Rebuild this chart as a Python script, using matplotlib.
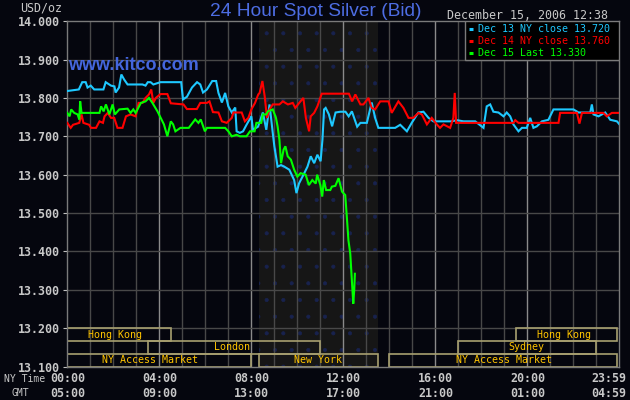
import matplotlib.pyplot as plt
from matplotlib.patches import Rectangle
from matplotlib import transforms

plt.rcParams['hatch.linewidth'] = 0.5

# Dec 13 (cyan), hours after 00:00 NY time
dec13_h = [0.0, 0.5, 0.65, 0.8, 0.88, 1.02, 1.17, 1.57, 1.67, 1.9, 2.05, 2.1, 2.25, 2.35, 2.47, 2.62,
           3.27, 3.4, 3.5, 3.62, 3.74, 4.05, 4.95, 5.03, 5.2, 5.42, 5.64, 5.78, 5.9, 6.07, 6.3, 6.47,
           6.57, 6.72, 6.86, 7.0, 7.15, 7.3, 7.36, 7.5, 7.64, 7.79, 8.0, 8.07, 8.29, 8.5, 8.65, 8.79,
           8.93, 9.0, 9.07, 9.14, 9.29, 9.43, 9.65, 9.86, 9.96, 10.07, 10.3, 10.44, 10.58, 10.73,
           10.87, 11.01, 11.09, 11.16, 11.23, 11.37, 11.51, 11.66, 11.87, 12.09, 12.23, 12.37, 12.6,
           12.74, 13.02, 13.23, 13.38, 13.52, 14.25, 14.47, 14.76, 14.97, 15.26, 15.48, 15.7, 15.91,
           16.71, 16.93, 17.22, 17.73, 18.09, 18.23, 18.38, 18.52, 18.74, 18.96, 19.1, 19.25, 19.39,
           19.61, 19.76, 19.97, 20.12, 20.26, 20.41, 20.63, 20.91, 21.13, 22.0, 22.22, 22.73, 22.8,
           22.87, 23.09, 23.38, 23.6, 23.89, 24.0]
dec13_p = [13.818, 13.822, 13.841, 13.841, 13.827, 13.832, 13.822, 13.822, 13.841, 13.832, 13.830,
           13.814, 13.827, 13.861, 13.848, 13.835, 13.835, 13.832, 13.841, 13.841, 13.835, 13.841,
           13.841, 13.796, 13.803, 13.827, 13.841, 13.835, 13.814, 13.822, 13.844, 13.844, 13.813,
           13.788, 13.813, 13.778, 13.762, 13.775, 13.713, 13.709, 13.713, 13.730, 13.752, 13.717,
           13.725, 13.762, 13.717, 13.783, 13.709, 13.674, 13.648, 13.621, 13.625, 13.621, 13.613,
           13.586, 13.552, 13.577, 13.604, 13.621, 13.648, 13.630, 13.652, 13.635, 13.691, 13.770,
           13.774, 13.757, 13.726, 13.762, 13.764, 13.764, 13.752, 13.765, 13.725, 13.735, 13.735,
           13.788, 13.748, 13.722, 13.722, 13.730, 13.713, 13.735, 13.762, 13.764, 13.748, 13.739,
           13.739, 13.742, 13.739, 13.739, 13.722, 13.778, 13.783, 13.764, 13.762, 13.752, 13.762,
           13.752, 13.731, 13.713, 13.722, 13.722, 13.748, 13.722, 13.726, 13.739, 13.743, 13.770,
           13.770, 13.762, 13.762, 13.783, 13.757, 13.752, 13.762, 13.743, 13.739, 13.731]

# Dec 14 (red)
dec14_h = [0.0, 0.15, 0.25, 0.52, 0.62, 0.7, 0.95, 1.03, 1.25, 1.4, 1.55, 1.62, 1.76, 1.9, 2.04, 2.18,
           2.4, 2.55, 2.75, 2.97, 3.1, 3.27, 3.4, 3.55, 3.65, 3.74, 3.85, 4.05, 4.35, 4.5, 5.05, 5.2,
           5.63, 5.78, 6.07, 6.18, 6.33, 6.57, 6.72, 6.93, 7.15, 7.22, 7.58, 7.72, 7.87, 8.0, 8.16,
           8.3, 8.36, 8.48, 8.58, 8.68, 8.79, 8.93, 9.22, 9.37, 9.59, 9.8, 9.91, 10.08, 10.26, 10.37,
           10.51, 10.58, 10.73, 10.87, 11.06, 12.24, 12.38, 12.52, 12.74, 12.87, 13.09, 13.23, 13.38,
           13.6, 13.96, 14.1, 14.39, 14.61, 14.83, 15.04, 15.26, 15.41, 15.63, 15.84, 16.06, 16.2,
           16.35, 16.64, 16.78, 16.84, 16.9, 19.39, 19.47, 19.61, 21.35, 21.42, 22.15, 22.26, 22.37,
           23.3, 23.45, 23.67, 24.0]
dec14_p = [13.735, 13.722, 13.730, 13.735, 13.757, 13.735, 13.730, 13.722, 13.722, 13.739, 13.735,
           13.752, 13.761, 13.748, 13.748, 13.722, 13.722, 13.752, 13.757, 13.752, 13.787, 13.787,
           13.800, 13.809, 13.822, 13.787, 13.800, 13.810, 13.810, 13.786, 13.783, 13.771, 13.771,
           13.787, 13.787, 13.791, 13.763, 13.762, 13.739, 13.735, 13.748, 13.762, 13.762, 13.739,
           13.748, 13.770, 13.787, 13.809, 13.813, 13.844, 13.804, 13.748, 13.770, 13.783, 13.783,
           13.791, 13.783, 13.787, 13.774, 13.787, 13.800, 13.748, 13.713, 13.752, 13.761, 13.778,
           13.811, 13.811, 13.791, 13.809, 13.783, 13.783, 13.800, 13.774, 13.770, 13.791, 13.791,
           13.761, 13.791, 13.774, 13.748, 13.748, 13.761, 13.757, 13.731, 13.748, 13.731, 13.722,
           13.731, 13.722, 13.748, 13.813, 13.735, 13.735, 13.742, 13.735, 13.735, 13.761, 13.761,
           13.733, 13.761, 13.761, 13.752, 13.761, 13.761]

# Dec 15 (green), until 12:38
dec15_h = [0.0, 0.1, 0.17, 0.3, 0.45, 0.52, 0.56, 0.62, 1.4, 1.47, 1.58, 1.68, 1.83, 1.97, 2.07, 2.26,
           2.62, 2.75, 2.87, 2.97, 3.2, 3.4, 3.55, 3.7, 3.92, 4.06, 4.2, 4.35, 4.5, 4.6, 4.7, 4.92,
           5.28, 5.56, 5.7, 5.8, 5.98, 6.07, 6.86, 7.0, 7.15, 7.36, 7.5, 7.79, 7.94, 8.14, 8.22, 8.43,
           8.5, 8.65, 8.72, 8.93, 9.07, 9.14, 9.22, 9.29, 9.4, 9.48, 9.58, 9.72, 9.86, 10.0, 10.14,
           10.36, 10.5, 10.65, 10.8, 10.86, 11.0, 11.08, 11.15, 11.25, 11.43, 11.5, 11.65, 11.79,
           11.94, 12.08, 12.15, 12.22, 12.3, 12.36, 12.43, 12.47, 12.5]
dec15_p = [13.761, 13.752, 13.770, 13.761, 13.757, 13.744, 13.791, 13.761, 13.761, 13.778, 13.765,
           13.783, 13.757, 13.783, 13.757, 13.770, 13.772, 13.761, 13.770, 13.761, 13.787, 13.791,
           13.800, 13.787, 13.765, 13.748, 13.731, 13.700, 13.739, 13.731, 13.713, 13.722, 13.722,
           13.744, 13.735, 13.744, 13.713, 13.722, 13.722, 13.713, 13.700, 13.704, 13.700, 13.700,
           13.713, 13.713, 13.735, 13.735, 13.757, 13.757, 13.765, 13.770, 13.748, 13.726, 13.691,
           13.630, 13.665, 13.674, 13.648, 13.639, 13.613, 13.595, 13.604, 13.600, 13.573, 13.586,
           13.577, 13.600, 13.573, 13.543, 13.586, 13.560, 13.560, 13.569, 13.571, 13.591, 13.556,
           13.547, 13.490, 13.429, 13.394, 13.333, 13.264, 13.299, 13.342]

legend_labels = ['Dec 13 NY close 13.720', 'Dec 14 NY close 13.760', 'Dec 15 Last 13.330']
series_colors = ['#1ec8ff', '#ff0000', '#00ff00']

y_ticks = [13.1, 13.2, 13.3, 13.4, 13.5, 13.6, 13.7, 13.8, 13.9, 14.0]
ny_ticks = [0, 4, 8, 12, 16, 20]
ny_labels = ['00:00', '04:00', '08:00', '12:00', '16:00', '20:00']
gmt_labels = ['05:00', '09:00', '13:00', '17:00', '21:00', '01:00']

# market sessions: (name, start, end, row, text x)
markets = [('Hong Kong', 0, 4.5, 0, 2.07),
           ('London', 3.5, 11, 1, 7.15),
           ('NY Access Market', 0, 8, 2, 3.6),
           ('New York', 8.33, 13.5, 2, 10.9),
           ('Hong Kong', 19.5, 23.9, 0, 21.6),
           ('Sydney', 17, 23, 1, 19.97),
           ('NY Access Market', 14, 23.9, 2, 18.96)]
ny_session = (8.33, 13.5)

bg = '#05060e'
light = '#c8c8c8'
mono = 'DejaVu Sans Mono'

fig = plt.figure(figsize=(6.3, 4.0), dpi=100, facecolor=bg)
ax = fig.add_axes([0.1068, 0.0833, 0.8765, 0.8639])
ax.set_facecolor(bg)
ax.set_xlim(0, 24)
ax.set_ylim(13.1, 14.0)

# New York session shading
ax.axvspan(ny_session[0], ny_session[1], facecolor='#161616', edgecolor='#18224e',
           hatch='.', lw=0, zorder=0.5)

# grid
for h in range(1, 24):
    c = '#8a8a8a' if h % 4 == 0 else '#484848'
    ax.axvline(h, color=c, lw=1.0, zorder=1)
for y in y_ticks[1:-1]:
    ax.axhline(y, color='#484848', lw=1.0, zorder=1)

for s in ax.spines.values():
    s.set_color('#7a7a7a')
    s.set_linewidth(1.0)

# market boxes
row_h = 0.1 / 3
for name, x0, x1, row, tx in markets:
    y0 = 13.2 - (row + 1) * row_h
    ax.add_patch(Rectangle((x0, y0), x1 - x0, row_h, fill=False, edgecolor='#a8a070',
                           lw=1.2, zorder=2))
    ax.text(tx, y0 + row_h / 2, name, color='#ffc400', fontsize=7.2, family=mono,
            ha='center', va='center', zorder=3)

# price lines
for hh, pp, col in [(dec13_h, dec13_p, series_colors[0]),
                    (dec14_h, dec14_p, series_colors[1]),
                    (dec15_h, dec15_p, series_colors[2])]:
    ax.plot(hh, pp, color=col, lw=1.5, zorder=4, solid_joinstyle='miter')

# y axis
ax.set_yticks(y_ticks)
ax.set_yticklabels(['%.3f' % v for v in y_ticks], color=light, fontsize=8.4, family=mono,
                   fontweight='bold')
ax.tick_params(axis='y', length=3, color='#c0c0c0', pad=2)
ax.set_xticks([])

# time labels under the plot
bt = transforms.blended_transform_factory(ax.transData, fig.transFigure)
for h, a, b in zip(ny_ticks, ny_labels, gmt_labels):
    ax.text(h, 0.053, a, transform=bt, color=light, fontsize=8.4, family=mono,
            ha='center', va='center', fontweight='bold')
    ax.text(h, 0.017, b, transform=bt, color=light, fontsize=8.4, family=mono,
            ha='center', va='center', fontweight='bold')
fig.text(0.994, 0.053, '23:59', color=light, fontsize=8.4, family=mono, ha='right',
         va='center', fontweight='bold')
fig.text(0.994, 0.017, '04:59', color=light, fontsize=8.4, family=mono, ha='right',
         va='center', fontweight='bold')
fig.text(0.006, 0.053, 'NY Time', color=light, fontsize=7, family=mono, va='center')
fig.text(0.019, 0.017, 'GMT', color=light, fontsize=7, family=mono, va='center')

# header texts
fig.text(0.099, 0.98, 'USD/oz', color=light, fontsize=8.4, family=mono, ha='right', va='center')
fig.text(0.501, 0.97, '24 Hour Spot Silver (Bid)', color='#4d6de3', fontsize=13.8,
         family='Liberation Sans', ha='center', va='center')
fig.text(0.965, 0.962, 'December 15, 2006 12:38', color=light, fontsize=8.4, family=mono,
         ha='right', va='center')
ax.text(0.002, 0.872, 'www.kitco.com', transform=ax.transAxes, color='#4466dd', fontsize=13,
        family='Liberation Sans', fontweight='bold', ha='left', va='center', zorder=5)

# legend box
ax.add_patch(Rectangle((0.72, 0.888), 0.28, 0.112, transform=ax.transAxes, facecolor='#000000',
                       edgecolor='#7a7a7a', lw=1.0, zorder=6))
for i, (lab, col) in enumerate(zip(legend_labels, series_colors)):
    yy = 0.978 - i * 0.035
    ax.plot([0.728, 0.735], [yy, yy], transform=ax.transAxes, color=col, lw=2.2, zorder=7,
            solid_capstyle='butt')
    ax.text(0.743, yy, lab, transform=ax.transAxes, color=col, fontsize=7.2, family=mono,
            ha='left', va='center', zorder=7)

fig.savefig('out.png', dpi=100, facecolor=bg)
